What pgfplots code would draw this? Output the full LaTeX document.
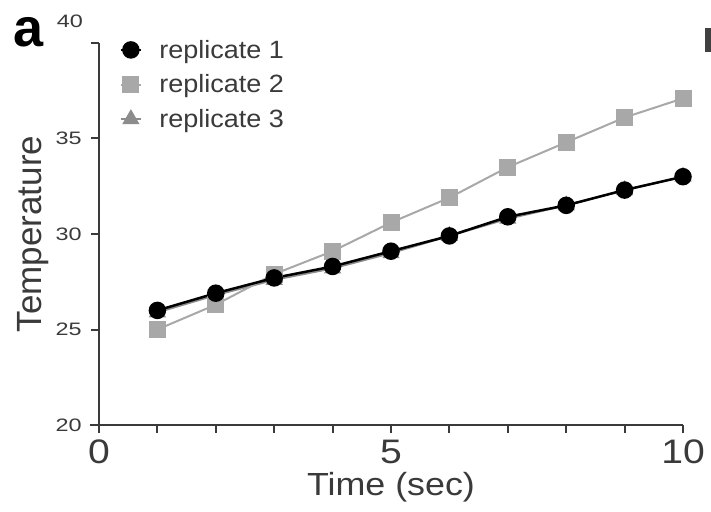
\documentclass[border=0pt]{standalone}
\usepackage{pgfplots}
\pgfplotsset{compat=1.18}
\usepackage{fontspec}
\setmainfont{Liberation Sans}
\definecolor{txt}{HTML}{3A3A3A}
\definecolor{sqgray}{HTML}{A8A8A8}
\definecolor{trigray}{HTML}{8C8C8C}
\begin{document}
\begin{tikzpicture}
\begin{axis}[
  at={(0pt,0pt)}, anchor=south west,
  scale only axis, width=584pt, height=382pt,
  xmin=0, xmax=10, ymin=20, ymax=40,
  axis lines=left,
  axis line style={-, line width=2.6pt, color=txt},
  every tick/.style={line width=2pt, color=txt},
  tick align=outside,
  major tick length=8pt, minor tick length=8pt,
  xtick={0,5,10}, minor xtick={1,2,3,4,6,7,8,9},
  ytick={20,25,30,35,40},
  yticklabels={20,25,30,35,{}},
  /pgf/number format/assume math mode=true,
  xticklabel style={font=\fontsize{34}{34}\selectfont, text=txt, inner sep=1pt, xscale=1.15, yshift=-6pt},
  yticklabel style={font=\fontsize{18}{18}\selectfont, text=txt, inner sep=1pt, xscale=1.3, xshift=-6pt},
  xlabel={Time (sec)},
  ylabel={Temperature},
  xlabel style={font=\fontsize{32}{32}\selectfont, text=txt, xscale=1.12, at={(axis description cs:0.5,0)}, anchor=center, yshift=-62pt},
  ylabel style={font=\fontsize{35}{35}\selectfont, text=txt, at={(axis description cs:-0.113,0.5)}, anchor=center},
  clip=false,
  reverse legend,
  legend style={at={(axis description cs:0.035,0.995)}, anchor=north west, yshift=7pt, draw=none, fill=none,
    font=\fontsize{25}{25}\selectfont, text=txt, row sep=11pt, inner sep=0pt,
    nodes={xscale=1.08},
    /tikz/every odd column/.append style={column sep=15pt}},
  legend cell align=left,
  legend image code/.code={\draw[mark repeat=2,mark phase=2] plot coordinates {(0pt,0pt) (10pt,0pt) (20pt,0pt)};},
]
\addplot[color=trigray, line width=2pt, mark=triangle*, mark size=8pt] coordinates {
(1,25.9) (2,26.8) (3,27.6) (4,28.2) (5,29.0) (6,29.9) (7,30.8) (8,31.5) (9,32.3) (10,33.0)};
\addlegendentry{replicate 3}
\addplot[color=sqgray, line width=2pt, mark=square*, mark size=7.5pt] coordinates {
(1,25.0) (2,26.3) (3,27.9) (4,29.1) (5,30.6) (6,31.9) (7,33.5) (8,34.8) (9,36.1) (10,37.1)};
\addlegendentry{replicate 2}
\addplot[color=black, line width=2.5pt, mark=*, mark size=7.5pt] coordinates {
(1,26.0) (2,26.9) (3,27.7) (4,28.3) (5,29.1) (6,29.9) (7,30.9) (8,31.5) (9,32.3) (10,33.0)};
\addlegendentry{replicate 1}
\end{axis}
\draw[line width=2.6pt, color=txt] (-9pt,0pt) -- (0pt,0pt);
\node[font=\bfseries\fontsize{54}{54}\selectfont, anchor=base] at (-70pt,378pt) {a};
\node[font=\fontsize{18}{18}\selectfont, text=txt, xscale=1.3] at (-29pt,404pt) {40};
\fill[black!75] (606pt,373pt) rectangle (612pt,397pt);
\pgfresetboundingbox
\path[use as bounding box] (-99pt,-86pt) rectangle (612pt,425pt);
\end{tikzpicture}
\end{document}
